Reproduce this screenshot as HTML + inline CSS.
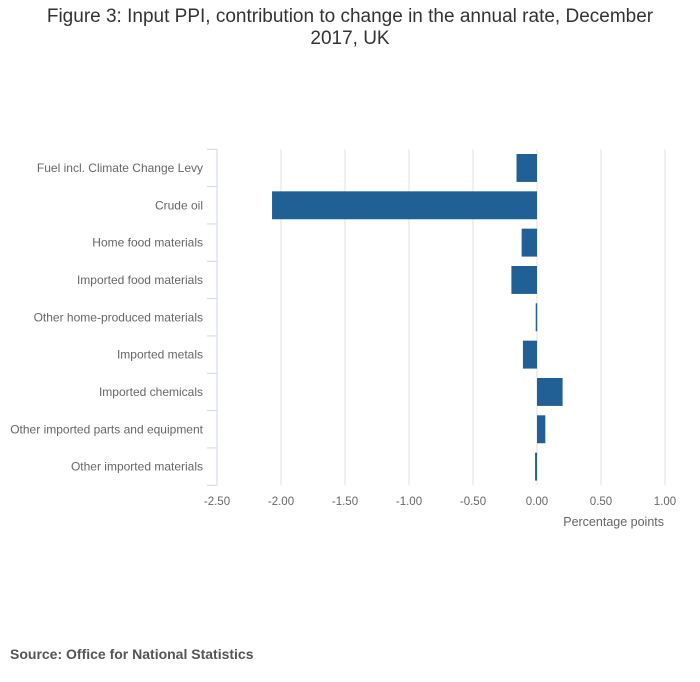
<!DOCTYPE html>
<html><head><meta charset="utf-8"><style>
body{margin:0;background:#fff;font-family:"Liberation Sans",sans-serif}
#wrap{position:relative;width:700px;height:682px}
#title{position:absolute;left:0;top:6px;width:700px;text-align:center;font-size:19px;line-height:22px;color:#333}
#src{position:absolute;left:10px;top:646px;font-size:14px;font-weight:bold;color:#555}
</style></head><body>
<div id="wrap">
<div id="title">Figure 3: Input PPI, contribution to change in the annual rate, December<br>2017, UK</div>
<svg id="chart" width="700" height="682" style="position:absolute;left:0;top:0"></svg>
<div id="src">Source: Office for National Statistics</div>
</div>
<script>
const categories=["Fuel incl. Climate Change Levy","Crude oil","Home food materials","Imported food materials","Other home-produced materials","Imported metals","Imported chemicals","Other imported parts and equipment","Other imported materials"];
const values=[-0.16,-2.07,-0.12,-0.20,-0.01,-0.11,0.20,0.065,-0.015];
const ticks=[-2.5,-2,-1.5,-1,-0.5,0,0.5,1];
const tickLabels=["-2.50","-2.00","-1.50","-1.00","-0.50","0.00","0.50","1.00"];
const svg=document.getElementById('chart');const NS='http://www.w3.org/2000/svg';
const x0=217,pxu=128,top0=149.3,rowH=37.33;
const xs=v=>x0+(v+2.5)*pxu;
function mk(t,a){const e=document.createElementNS(NS,t);for(const k in a)e.setAttribute(k,a[k]);svg.appendChild(e);return e;}
ticks.forEach((t,i)=>{
  if(i>0){const g=mk('line',{x1:xs(t),x2:xs(t),y1:top0,y2:top0+rowH*categories.length,stroke:'#e0e0e0','stroke-width':1});
  
  }
  const l=mk('text',{x:xs(t),y:505,'text-anchor':'middle','font-size':'11.5','fill':'#666'});l.textContent=tickLabels[i];
  
  
});
const ax=mk('line',{x1:x0,x2:x0,y1:top0,y2:top0+rowH*categories.length,stroke:'#ccd6eb','stroke-width':1});


for(let i=0;i<=categories.length;i++){const tk=mk('line',{x1:x0-10,x2:x0,y1:top0+i*rowH,y2:top0+i*rowH,stroke:'#ccd6eb','stroke-width':1});

}
categories.forEach((c,i)=>{
  const cy=top0+i*rowH+rowH/2;
  const t=mk('text',{x:203,y:cy+4,'text-anchor':'end','font-size':'12','fill':'#666'});t.textContent=c;
  
  
  const v=values[i],a=xs(0),b=xs(v);
  const r=mk('rect',{x:Math.min(a,b),y:top0+i*rowH+4.7,width:Math.max(1.5,Math.abs(b-a)),height:rowH-9.4,fill:'#206095'});
  
  
});
const xt=mk('text',{x:664,y:526,'text-anchor':'end','font-size':'12.5','fill':'#666'});xt.textContent='Percentage points';


</script>
</body></html>
